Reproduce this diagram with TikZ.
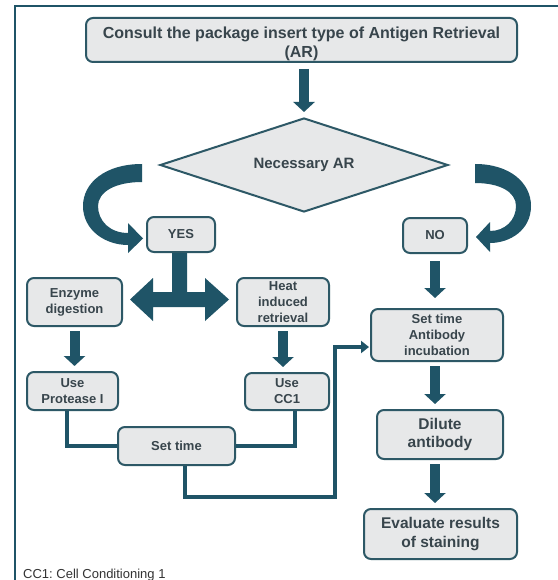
\documentclass[tikz,border=0pt]{standalone}
\usepackage{fontspec}
\setmainfont{Liberation Sans}
\usetikzlibrary{arrows.meta,shapes.geometric}

\definecolor{boxfill}{HTML}{E7E8E9}
\definecolor{boxline}{HTML}{2D5866}
\definecolor{flowcol}{HTML}{1F5467}
\definecolor{txtcol}{HTML}{38454C}

\begin{document}
\begin{tikzpicture}[x=1pt,y=-1pt,
  box/.style={draw=boxline, line width=2pt, fill=boxfill, rounded corners=7pt,
    align=center, inner sep=0pt, text=txtcol,
    font=\bfseries\fontsize{13}{16}\selectfont},
  bigbox/.style={box, font=\bfseries\fontsize{15.5}{18.5}\selectfont},
  flow/.style={draw=flowcol, line width=10pt,
    -{Triangle[width=21pt,length=10pt]}, shorten <=4pt, shorten >=5pt},
  conn/.style={draw=flowcol, line width=4.5pt},
  bent/.style={fill=flowcol, draw=none}]

% page and frame
\fill[white] (0,0) rectangle (557,580);
\useasboundingbox (0,0) rectangle (557,580);
\draw[flowcol, line width=2.5pt] (15,582) -- (15,6) -- (560,6);

% nodes
\node[box, minimum width=431pt, minimum height=44pt,
      font=\bfseries\fontsize{16}{19}\selectfont]
  (top) at (301.5,40) {\rule{0pt}{19.5pt}Consult the package insert type of Antigen Retrieval\\(AR)};
\node[diamond, draw=boxline, line width=2pt, fill=boxfill, aspect=3,
      minimum width=288pt, minimum height=94pt, inner sep=0pt, text=txtcol,
      font=\bfseries\fontsize{15}{18}\selectfont]
  (dia) at (304,165) {Necessary AR};
\node[box, minimum width=68pt, minimum height=35pt] (yes) at (181,234.5) {YES};
\node[box, minimum width=64pt, minimum height=35pt] (no) at (435,235.5) {NO};
\node[box, minimum width=95pt, minimum height=48pt] (enz) at (74.5,302) {Enzyme\\digestion};
\node[box, minimum width=92pt, minimum height=48pt] (heat) at (283,302) {Heat\\induced\\retrieval};
\node[box, minimum width=132pt, minimum height=52pt] (incub) at (437,335) {Set time\\Antibody\\incubation};
\node[box, minimum width=91pt, minimum height=38pt] (prot) at (72.5,391) {Use\\Protease I};
\node[box, minimum width=84pt, minimum height=37pt] (cc) at (287,391.5) {Use\\CC1};
\node[box, minimum width=117pt, minimum height=38pt] (st) at (176.5,446) {Set time};
\node[bigbox, minimum width=126pt, minimum height=49pt] (dil) at (440,434.5) {Dilute\\antibody};
\node[bigbox, minimum width=153pt, minimum height=50pt] (eval) at (440.5,534) {Evaluate results\\of staining};
\node[anchor=base west, inner sep=0pt, text=black!80,
      font=\fontsize{13}{16}\selectfont] (note) at (23,578) {\frenchspacing CC1: Cell Conditioning 1};

% straight flow arrows
\draw[flow, shorten <=6pt] (top.south -| dia.north) -- (dia.north);
\draw[flow] (enz.south) -- (enz.south |- prot.north);
\draw[flow] (heat.south) -- (heat.south |- cc.north);
\draw[flow, shorten <=7pt, shorten >=10pt] (no.south) -- (no.south |- incub.north);
\draw[flow] (incub.south -| no.south) -- (no.south |- dil.north);
\draw[flow] (dil.south -| no.south) -- (no.south |- eval.north);

% YES splits into both retrieval methods
\fill[flowcol] (yes.south -| 172,0) -- (yes.south -| 187,0) -- (187,292) -- (205,292)
  -- (205,278) -- (229,299.5) -- (205,321) -- (205,307) -- (153,307) -- (153,321)
  -- (130,299.5) -- (153,278) -- (153,292) -- (172,292) -- cycle;

% curved arrows from the decision
\fill[bent] (142,164) .. controls (105,164) and (83,183) .. (83,206)
  .. controls (83,230) and (105,245) .. (128,245)
  -- (128,253) -- (143,238.5) -- (128,223) -- (128,233)
  .. controls (110,233) and (98,221) .. (98,206)
  .. controls (98,192) and (115,182) .. (142,182) -- cycle;
\fill[bent] (475,164) .. controls (510,164) and (531,183) .. (531,206)
  .. controls (531,230) and (510,243) .. (490,243)
  -- (490,252) -- (476,237) -- (490,222) -- (490,231)
  .. controls (505,231) and (516,220) .. (516,206)
  .. controls (516,192) and (500,183) .. (475,183) -- cycle;

% connectors joining the two branches
\coordinate (bend) at (335,497);
\draw[conn] ([xshift=-5.5pt]prot.south) |- (st.west);
\draw[conn] ([xshift=8pt]cc.south) |- (st.east);
\draw[conn, -{Triangle[width=12pt,length=8pt]}, shorten >=1pt]
  ([xshift=8.5pt]st.south) |- (bend) |- ([yshift=-12pt]incub.west);
\end{tikzpicture}
\end{document}
